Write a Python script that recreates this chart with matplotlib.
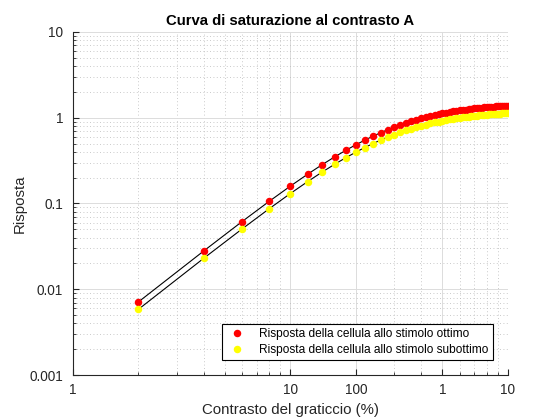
import matplotlib
matplotlib.use("Agg")
import matplotlib.pyplot as plt
from matplotlib.ticker import FixedLocator, LogLocator, NullFormatter

plt.rcParams['font.family'] = ['Liberation Sans', 'DejaVu Sans']

# contrasto del graticcio (%)
contrasto = [2, 4, 6, 8, 10, 12, 14, 16, 18, 20, 22, 24, 26, 28, 30, 32, 34, 36, 38, 40,
             42, 44, 46, 48, 50, 52, 54, 56, 58, 60, 62, 64, 66, 68, 70, 72, 74, 76, 78, 80,
             82, 84, 86, 88, 90, 92, 94, 96, 98, 100]

risposta_ottimo = [0.00710, 0.0280, 0.0616, 0.1061, 0.1594, 0.2193, 0.2835, 0.3501, 0.4172, 0.4835,
                   0.5479, 0.6097, 0.6684, 0.7237, 0.7754, 0.8236, 0.8683, 0.9097, 0.9479, 0.9832,
                   1.0157, 1.0457, 1.0734, 1.0989, 1.1224, 1.1442, 1.1642, 1.1828, 1.2000, 1.2159,
                   1.2307, 1.2445, 1.2573, 1.2692, 1.2803, 1.2906, 1.3003, 1.3094, 1.3178, 1.3258,
                   1.3332, 1.3403, 1.3469, 1.3531, 1.3589, 1.3644, 1.3696, 1.3746, 1.3792, 1.3836]

risposta_subottimo = [0.00582, 0.0230, 0.0505, 0.0870, 0.1307, 0.1798, 0.2325, 0.2871, 0.3421, 0.3965,
                      0.4493, 0.5000, 0.5481, 0.5934, 0.6358, 0.6754, 0.7120, 0.7460, 0.7773, 0.8062,
                      0.8329, 0.8575, 0.8802, 0.9011, 0.9204, 0.9382, 0.9546, 0.9699, 0.9840, 0.9970,
                      1.0092, 1.0205, 1.0310, 1.0407, 1.0498, 1.0583, 1.0662, 1.0737, 1.0806, 1.0872,
                      1.0932, 1.0990, 1.1045, 1.1095, 1.1143, 1.1188, 1.1231, 1.1272, 1.1309, 1.1346]

x_ticks = [1, 10, 20, 50, 100]
x_labels = ['1', '10', '100', '1', '10']
y_ticks = [0.001, 0.01, 0.1, 1, 10]
y_labels = ['0.001', '0.01', '0.1', '1', '10']

fig = plt.figure(figsize=(5.6, 4.2), dpi=100)
ax = fig.add_axes([0.13, 0.107, 0.777, 0.817])

ax.plot(contrasto, risposta_ottimo, color='black', lw=0.8, zorder=2)
ax.plot(contrasto, risposta_subottimo, color='black', lw=0.8, zorder=2)
ax.plot(contrasto, risposta_ottimo, 'o', color='red', ms=5.4, mec='none', zorder=3,
        label='Risposta della cellula allo stimolo ottimo')
ax.plot(contrasto, risposta_subottimo, 'o', color='yellow', ms=5.4, mec='none', zorder=3,
        label='Risposta della cellula allo stimolo subottimo')

ax.set_xscale('log')
ax.set_yscale('log')
ax.set_xlim(1, 100)
ax.set_ylim(0.001, 10)

ax.xaxis.set_major_locator(FixedLocator(x_ticks))
ax.set_xticklabels(x_labels)
ax.xaxis.set_minor_locator(LogLocator(base=10, subs=[2, 3, 4, 5, 6, 7, 8, 9]))
ax.xaxis.set_minor_formatter(NullFormatter())
ax.yaxis.set_major_locator(FixedLocator(y_ticks))
ax.set_yticklabels(y_labels)
ax.yaxis.set_minor_locator(LogLocator(base=10, subs=[2, 3, 4, 5, 6, 7, 8, 9]))
ax.yaxis.set_minor_formatter(NullFormatter())

ax.grid(True, which='major', color='#dcdcdc', lw=0.7, ls='-', zorder=0)
ax.grid(True, which='minor', color='#b8b8b8', lw=0.6, ls=(0, (1, 3)), zorder=0)
ax.set_axisbelow(True)

for side in ['top', 'right']:
    ax.spines[side].set_visible(False)
for side in ['left', 'bottom']:
    ax.spines[side].set_color('#262626')
    ax.spines[side].set_linewidth(0.8)

ax.tick_params(which='both', direction='in', colors='#262626', labelsize=9.8)
ax.tick_params(which='major', length=4)
ax.tick_params(which='minor', length=2)
ax.tick_params(axis='x', pad=6)
ax.tick_params(axis='y', pad=7)

ax.set_xlabel('Contrasto del graticcio (%)', fontsize=10.8, color='#262626')
ax.set_ylabel('Risposta', fontsize=10.8, color='#262626', labelpad=2)
ax.set_title('Curva di saturazione al contrasto A', fontsize=10.7, fontweight='bold', pad=5)

leg = ax.legend(loc='lower right', fontsize=8.6, frameon=True, fancybox=False,
                edgecolor='black', framealpha=1, borderaxespad=1.25, handletextpad=1.0,
                handlelength=1.8, borderpad=0.35, labelspacing=0.3)
leg.get_frame().set_linewidth(0.8)

fig.savefig('out.png', dpi=100)
